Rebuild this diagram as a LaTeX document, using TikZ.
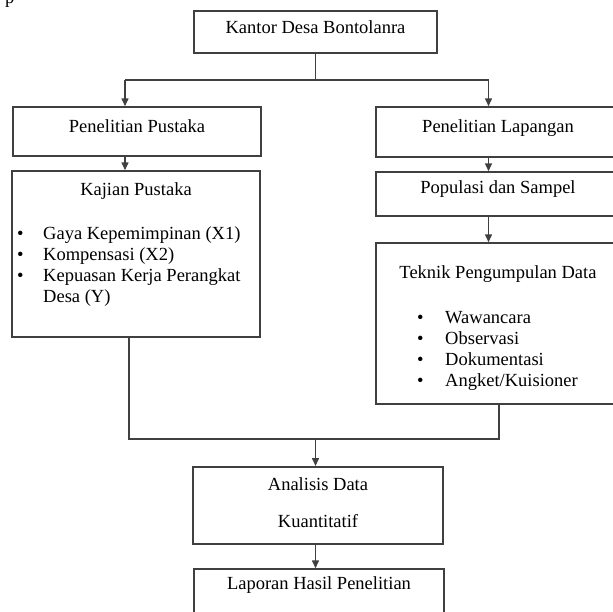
\documentclass[tikz,border=0pt]{standalone}
\usepackage{fontspec}
\setmainfont{Liberation Serif}
\usetikzlibrary{arrows.meta}

\begin{document}
\begin{tikzpicture}[x=1pt,y=-1pt,font=\fontsize{18.5}{20}\selectfont,
        kotak/.style={draw=black!75,line width=1.5pt,inner sep=0pt,align=center,anchor=base},
        daftar/.style={inner sep=0pt,anchor=base west,font=\fontsize{18.5}{21}\selectfont},
        garis/.style={draw=black!75,line width=1.5pt},
        panah/.style={garis,-{Triangle[length=8pt,width=7pt]}}]
        \useasboundingbox (0,0) rectangle (613,611);

        \node[inner sep=0pt,anchor=base west] at (5, 3) (potongan) {p};

        \node[kotak, minimum width=243pt, text height=22pt, text depth=20pt] at (315.5, 33) (kantor) {Kantor Desa Bontolanra};
        \node[kotak, minimum width=248pt, text height=25pt, text depth=24pt] at (137, 132) (pustaka) {Penelitian Pustaka};
        \node[kotak, minimum width=244pt, text height=25pt, text depth=25pt] at (498, 132) (lapangan) {Penelitian Lapangan};
        \node[kotak, minimum width=248pt, text height=24pt, text depth=142pt] at (136, 195) (kajian) {Kajian Pustaka};
        \node[kotak, minimum width=244pt, text height=21pt, text depth=23pt] at (498, 193) (populasi) {Populasi dan Sampel};
        \node[kotak, minimum width=244pt, text height=35pt, text depth=126pt] at (498, 278) (teknik) {Teknik Pengumpulan Data};
        \node[kotak, anchor=north, minimum width=250pt, minimum height=77pt] at (318, 466) (analisis) {Analisis Data\\[17pt]Kuantitatif\rule[-6pt]{0pt}{6pt}};
        \node[kotak, minimum width=250pt, text height=20pt, text depth=50pt] at (319, 589) (laporan) {Laporan Hasil Penelitian};

        \node[daftar] at (16.8, 239) (isiKajian) {\begin{tabular}[t]{@{}p{26.2pt}@{}l@{}}
            \textbullet & Gaya Kepemimpinan (X1)\\
            \textbullet & Kompensasi (X2)\\
            \textbullet & Kepuasan Kerja Perangkat\\
                        & Desa (Y)
            \end{tabular}};
        \node[daftar] at (416.8, 323) (isiTeknik) {\begin{tabular}[t]{@{}p{28.2pt}@{}l@{}}
            \textbullet & Wawancara\\
            \textbullet & Observasi\\
            \textbullet & Dokumentasi\\
            \textbullet & Angket/Kuisioner
            \end{tabular}};

        \coordinate (cabangKiri) at (125, 80);
        \coordinate (cabangKanan) at (488.5, 80);
        \coordinate (gabungKiri) at (129, 439);
        \coordinate (gabungKanan) at (499, 439);

        \draw[garis] (kantor.south) -- (kantor.south |- cabangKiri);
        \draw[garis] (cabangKiri) -- (cabangKanan);
        \draw[panah] (cabangKiri) -- (cabangKiri |- pustaka.north);
        \draw[panah] (cabangKanan) -- (cabangKanan |- lapangan.north);
        \draw[panah] (cabangKiri |- pustaka.south) -- (cabangKiri |- kajian.north);
        \draw[panah] (cabangKanan |- lapangan.south) -- (cabangKanan |- populasi.north);
        \draw[panah] (cabangKanan |- populasi.south) -- (cabangKanan |- teknik.north);
        \draw[garis] (gabungKiri |- kajian.south) -- (gabungKiri) -- (gabungKanan) -- (gabungKanan |- teknik.south);
        \draw[panah] (kantor.south |- gabungKiri) -- (kantor.south |- analisis.north);
        \draw[panah] (kantor.south |- analisis.south) -- (kantor.south |- laporan.north);
\end{tikzpicture}
\end{document}
